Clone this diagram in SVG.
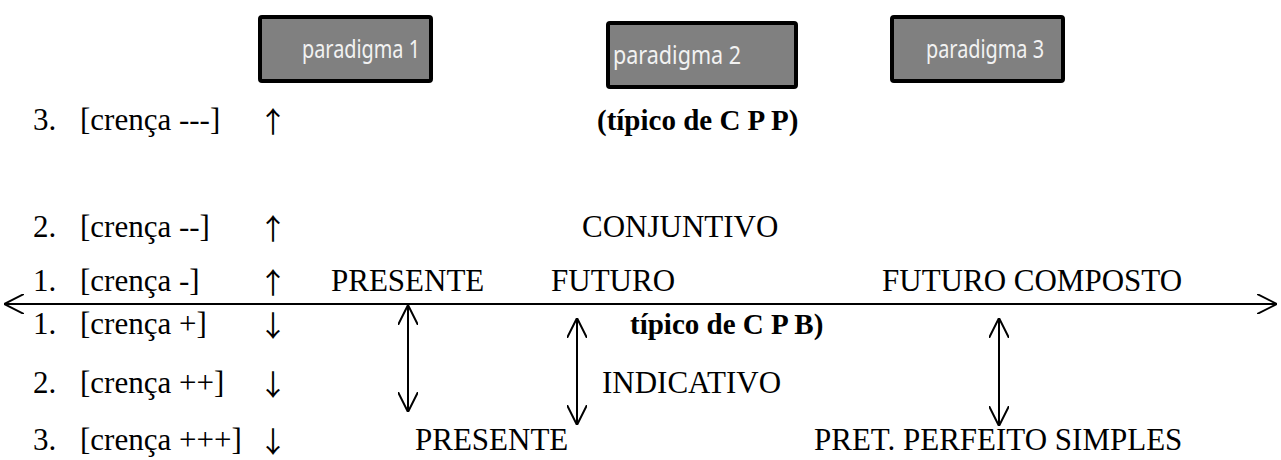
<svg xmlns="http://www.w3.org/2000/svg" width="1281" height="460" viewBox="0 0 1281 460">
<style>
  .t { font-family: "Liberation Serif", "Times New Roman", serif; font-size: 31px; fill: #000; }
  .b { font-weight: bold; font-size: 29px; }
  .ar { font-family: "Noto Sans CJK SC", "DejaVu Sans", sans-serif; font-size: 29px; fill: #000; }
  .box { fill: #808080; stroke: #000; stroke-width: 4; }
  .bt { font-family: "Noto Sans", "Open Sans", sans-serif; font-size: 26px; fill: #f2f2f2; }
  .ln { stroke: #000; stroke-width: 2; fill: none; }
</style>
<defs>
  <marker id="ah" viewBox="0 0 20 20" refX="20" refY="10" markerWidth="20" markerHeight="20" markerUnits="userSpaceOnUse" orient="auto-start-reverse">
    <path d="M0,0 L20,10 L0,20" fill="none" stroke="#000" stroke-width="2"/>
  </marker>
</defs>
<rect width="1281" height="460" fill="#fff"/>
<g id="paradigma1">
  <rect class="box" x="260" y="17" width="171" height="64" rx="2"/>
  <text class="bt" x="302" y="58" textLength="118" lengthAdjust="spacingAndGlyphs">paradigma 1</text>
</g>
<g id="paradigma2">
  <rect class="box" x="608" y="23" width="188" height="64" rx="2"/>
  <text class="bt" x="613" y="64" textLength="128" lengthAdjust="spacingAndGlyphs">paradigma 2</text>
</g>
<g id="paradigma3">
  <rect class="box" x="892" y="17" width="171" height="64" rx="2"/>
  <text class="bt" x="926" y="58" textLength="118" lengthAdjust="spacingAndGlyphs">paradigma 3</text>
</g>
<g id="labels">
  <text class="t" x="33" y="130">3.</text><text class="t" x="80" y="130">[crença ---]</text><text class="ar" x="273" y="133" text-anchor="middle">↑</text>
  <text class="t" x="33" y="237">2.</text><text class="t" x="80" y="237">[crença --]</text><text class="ar" x="273" y="240" text-anchor="middle">↑</text>
  <text class="t" x="33" y="291">1.</text><text class="t" x="80" y="291">[crença -]</text><text class="ar" x="273" y="294" text-anchor="middle">↑</text>
  <text class="t" x="33" y="334">1.</text><text class="t" x="80" y="334">[crença +]</text><text class="ar" x="273" y="337" text-anchor="middle">↓</text>
  <text class="t" x="33" y="393">2.</text><text class="t" x="80" y="393">[crença ++]</text><text class="ar" x="273" y="396" text-anchor="middle">↓</text>
  <text class="t" x="33" y="450">3.</text><text class="t" x="80" y="450">[crença +++]</text><text class="ar" x="273" y="453" text-anchor="middle">↓</text>
</g>
<g id="cpp"><text class="t b" x="597" y="130">(típico de C P P)</text></g>
<g id="conjuntivo"><text class="t" x="582" y="237">CONJUNTIVO</text></g>
<g id="presente1"><text class="t" x="331" y="291">PRESENTE</text></g>
<g id="futuro"><text class="t" x="551" y="291">FUTURO</text></g>
<g id="futurocomposto"><text class="t" x="882" y="291">FUTURO COMPOSTO</text></g>
<g id="cpb"><text class="t b" x="630" y="334">típico de C P B)</text></g>
<g id="indicativo"><text class="t" x="602" y="393">INDICATIVO</text></g>
<g id="presente2"><text class="t" x="415" y="450">PRESENTE</text></g>
<g id="pret"><text class="t" x="814" y="450">PRET. PERFEITO SIMPLES</text></g>
<g id="connectors">
  <line class="ln" x1="4" y1="304" x2="1277" y2="304" marker-start="url(#ah)" marker-end="url(#ah)"/>
  <line class="ln" x1="408" y1="305" x2="408" y2="412" marker-start="url(#ah)" marker-end="url(#ah)"/>
  <line class="ln" x1="577" y1="318" x2="577" y2="425" marker-start="url(#ah)" marker-end="url(#ah)"/>
  <line class="ln" x1="999" y1="318" x2="999" y2="426" marker-start="url(#ah)" marker-end="url(#ah)"/>
</g>
</svg>
